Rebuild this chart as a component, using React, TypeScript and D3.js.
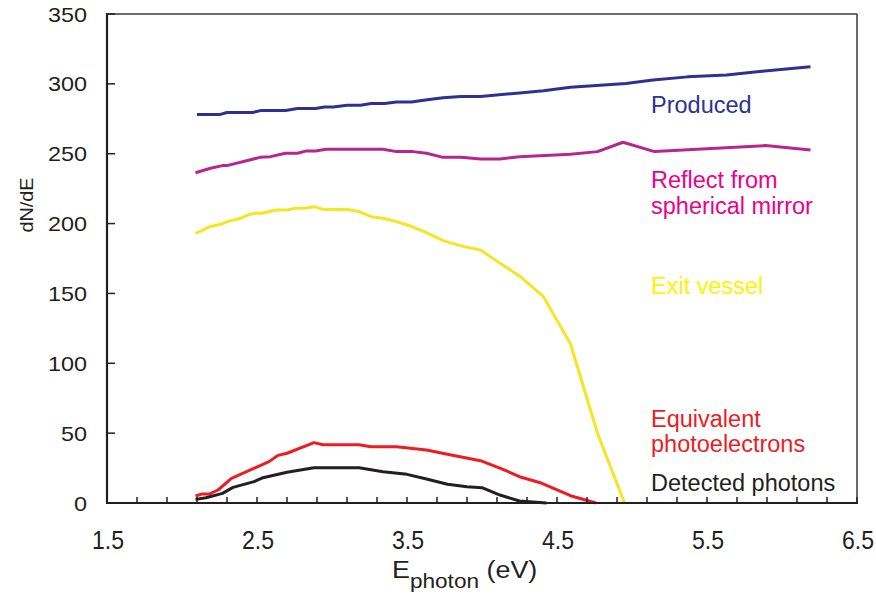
import React from "react";
import * as d3 from "d3";

const produced: [number, number][] = [
  [2.1, 278], [2.25, 278], [2.3, 279.5], [2.47, 279.5], [2.53, 281], [2.69, 281],
  [2.77, 282.3], [2.89, 282.3], [2.95, 283.5], [3.01, 283.5], [3.1, 284.7], [3.19, 284.7],
  [3.26, 286], [3.35, 286], [3.43, 287], [3.53, 287], [3.61, 288.3], [3.74, 290],
  [3.86, 291], [3.99, 291], [4.25, 293.5], [4.41, 295], [4.59, 297.5], [4.96, 300.3],
  [5.14, 302.8], [5.37, 305], [5.63, 306.4], [5.85, 308.8], [6.19, 312.3],
];

const reflect: [number, number][] = [
  [2.09, 236.4], [2.19, 239.6], [2.27, 241.5], [2.3, 241.5], [2.52, 247.4], [2.59, 247.9],
  [2.69, 250.3], [2.77, 250.3], [2.83, 252], [2.89, 252], [2.96, 253.2], [3.34, 253.2],
  [3.43, 251.5], [3.54, 251.5], [3.63, 250.3], [3.74, 247.4], [3.86, 247.4], [3.99, 246.2],
  [4.12, 246.2], [4.25, 247.9], [4.59, 249.6], [4.77, 251.5], [4.94, 258.2], [5.15, 251.5],
  [5.89, 255.8], [6.19, 252.7],
];

const exitVessel: [number, number][] = [
  [2.09, 193], [2.13, 194.7], [2.18, 197.6], [2.27, 199.9], [2.32, 201.9], [2.39, 203.8],
  [2.44, 206.2], [2.49, 207.4], [2.53, 207.4], [2.63, 209.7], [2.7, 209.7], [2.75, 210.9],
  [2.82, 210.9], [2.88, 212.1], [2.95, 210], [3.1, 210], [3.18, 208.6], [3.26, 204.9],
  [3.34, 203.8], [3.43, 201.4], [3.52, 198.3], [3.63, 193.5], [3.74, 187.8], [3.88, 183.5],
  [3.99, 181.1], [4.12, 171.6], [4.25, 162.5], [4.41, 147.7], [4.59, 113.8], [4.77, 49.9],
  [4.95, 0],
];

const photoelectrons: [number, number][] = [
  [2.09, 5], [2.13, 6.4], [2.18, 6.4], [2.24, 9.3], [2.33, 17.7], [2.58, 29.6],
  [2.64, 34.1], [2.7, 35.6], [2.88, 43.2], [2.94, 41.7], [3.18, 41.7], [3.26, 40.3],
  [3.43, 40.3], [3.63, 37.9], [3.77, 34.9], [3.99, 30.3], [4.14, 24.1], [4.25, 18.8],
  [4.4, 14.1], [4.59, 5.2], [4.76, 0],
];

const detected: [number, number][] = [
  [2.09, 2.6], [2.16, 3.8], [2.27, 6.9], [2.34, 11.2], [2.48, 15.3], [2.54, 18.1],
  [2.7, 22], [2.88, 25.3], [3.18, 25.3], [3.34, 22.4], [3.5, 20.5], [3.63, 17.2],
  [3.77, 13.4], [3.9, 11.7], [4.0, 11], [4.12, 5.7], [4.25, 1.4], [4.43, 0],
];

const xTickLabels = [1.5, 2.5, 3.5, 4.5, 5.5, 6.5];
const yTickLabels = [0, 50, 100, 150, 200, 250, 300, 350];

const FONT = "'Liberation Sans', Arial, Helvetica, sans-serif";

export default function App() {
  const x = d3.scaleLinear().domain([1.5, 6.5]).range([107, 857]);
  const y = d3.scaleLinear().domain([0, 350]).range([503, 14]);
  const line = d3
    .line<[number, number]>()
    .x((d) => x(d[0]))
    .y((d) => y(d[1]));

  const minorTicks = d3.range(0, 26).map((i) => 1.5 + i * 0.2);

  const series = [
    { data: exitVessel, color: "#f7e523" },
    { data: reflect, color: "#b5278e" },
    { data: produced, color: "#2e3192" },
    { data: photoelectrons, color: "#ed1c24" },
    { data: detected, color: "#231f20" },
  ];

  const sx = 1.17;

  return (
    <svg
      width={876}
      height={597}
      style={{ position: "absolute", left: 0, top: 0, background: "#fff" }}
      fontFamily={FONT}
    >
      <rect x={0} y={0} width={876} height={597} fill="#fff" />
      {/* frame */}
      <line x1={107} y1={14} x2={857} y2={14} stroke="#3a3a3a" strokeWidth={1.5} />
      <line x1={857} y1={14} x2={857} y2={503} stroke="#3a3a3a" strokeWidth={1.5} />

      {series.map((s, i) => (
        <path
          key={i}
          d={line(s.data) || ""}
          fill="none"
          stroke={s.color}
          strokeWidth={3}
          strokeLinejoin="round"
        />
      ))}

      {/* axes */}
      <line x1={107} y1={13} x2={107} y2={504} stroke="#231f20" strokeWidth={2.2} />
      <line x1={106} y1={503} x2={858} y2={503} stroke="#231f20" strokeWidth={2.2} />
      {yTickLabels.map((v) => (
        <line key={"yt" + v} x1={107} x2={115} y1={y(v)} y2={y(v)} stroke="#231f20" strokeWidth={1.5} />
      ))}
      {minorTicks.map((v, i) => (
        <line key={"xt" + i} x1={x(v)} x2={x(v)} y1={503} y2={497} stroke="#231f20" strokeWidth={1.5} />
      ))}

      {yTickLabels.map((v) => (
        <text
          key={"yl" + v}
          transform={`translate(87,${y(v) + 7.5}) scale(${sx},1.03)`}
          textAnchor="end"
          fontSize={20}
          fill="#231f20"
        >
          {v}
        </text>
      ))}
      {xTickLabels.map((v) => (
        <text
          key={"xl" + v}
          transform={`translate(${x(v) + 1},549) scale(1.1,1.2)`}
          textAnchor="middle"
          fontSize={21}
          fill="#231f20"
        >
          {v.toFixed(1)}
        </text>
      ))}

      {/* axis titles */}
      <text
        transform={`translate(33,205) rotate(-90) scale(1.1,1)`}
        textAnchor="middle"
        fontSize={18}
        fill="#231f20"
      >
        dN/dE
      </text>
      <text transform={`translate(392,578) scale(${sx},1)`} fontSize={23} fill="#231f20">
        E
        <tspan fontSize={19.3} dy={10}>photon</tspan>
        <tspan dy={-10}> (eV)</tspan>
      </text>

      {/* labels */}
      <g fontSize={23.5}>
        <text x={651} y={113} fill="#2e3192">Produced</text>
        <text x={651} y={188} fill="#ec008c">Reflect from</text>
        <text x={651} y={214} fill="#ec008c">spherical mirror</text>
        <text x={651} y={294} fill="#fff200">Exit vessel</text>
        <text x={651} y={427} fill="#ed1c24">Equivalent</text>
        <text x={651} y={452} fill="#ed1c24">photoelectrons</text>
        <text x={651} y={491} fill="#231f20">Detected photons</text>
      </g>
    </svg>
  );
}
